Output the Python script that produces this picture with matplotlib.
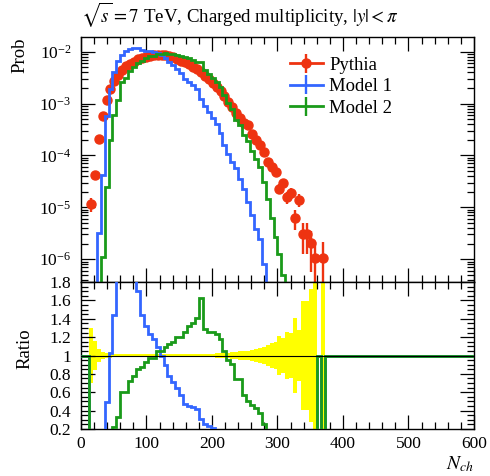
import numpy as np
import matplotlib
matplotlib.use("Agg")
import matplotlib.pyplot as plt
from matplotlib.ticker import MultipleLocator, LogLocator, NullFormatter, FuncFormatter

plt.rcParams['font.family'] = 'serif'
plt.rcParams['font.serif'] = ['Liberation Serif', 'DejaVu Serif']
plt.rcParams['mathtext.fontset'] = 'stix'

#---Binning: 6 units wide, 0..600
edges = np.arange(0, 606, 6)
centres = edges[:-1] + 3

#---log10(prob) per bin, starting at the given bin centre (None = empty bin)
pythia_start = 15
pythia_log = [-4.93, -4.38, -3.69, -3.24, -2.93, -2.72, -2.56, -2.45, -2.36, -2.28,
              -2.23, -2.19, -2.15, -2.12, -2.10, -2.08, -2.07, -2.06, -2.06, -2.07,
              -2.09, -2.11, -2.14, -2.17, -2.20, -2.24, -2.29, -2.34, -2.40, -2.46,
              -2.53, -2.60, -2.68, -2.76, -2.86, -2.96, -3.07, -3.18, -3.28, -3.37,
              -3.42, -3.58, -3.70, -3.80, -3.93, -4.12, -4.22, -4.32, -4.64, -4.54,
              -4.80, -4.73, -5.20, -4.85, -5.51, -5.51, -5.69, -5.97, None, -5.97]

model1_start = 21
model1_log = [-6.80, -5.50, -4.38, -3.24, -2.71, -2.40, -2.17, -2.06, -1.98, -1.94,
              -1.93, -1.92, -1.96, -1.98, -1.99, -2.00, -2.02, -2.06, -2.12, -2.20,
              -2.26, -2.33, -2.41, -2.53, -2.59, -2.65, -2.72, -2.91, -3.05, -3.17,
              -3.28, -3.40, -3.57, -3.80, -3.98, -4.12, -4.25, -4.45, -4.65, -4.90,
              -5.15, -5.42, -5.62, -6.10, -6.80]

model2_start = 33
model2_log = [-5.96, -4.60, -3.70, -3.22, -2.93, -2.58, -2.50, -2.37, -2.30, -2.22,
              -2.18, -2.13, -2.09, -2.08, -2.04, -2.04, -2.03, -2.04, -2.05, -2.06,
              -2.09, -2.10, -2.12, -2.16, -2.19, -2.19, -2.35, -2.43, -2.50, -2.59,
              -2.69, -2.84, -2.98, -3.11, -3.31, -3.41, -3.61, -3.72, -3.92, -4.07,
              -4.23, -4.52, -4.84, -5.20, -5.57, -5.90, -6.30, -6.80]

# prob corresponding to a single generated event
one_event = 10 ** -5.97

red = '#ee3311'
blue = '#3366ff'
green = '#1a9a1a'


def to_hist(start, logs):
  out = np.zeros(len(centres))
  i0 = (start - 3) // 6
  for k, v in enumerate(logs):
    if v is not None:
      out[i0 + k] = 10.0 ** v
  return out


pythia = to_hist(pythia_start, pythia_log)
model1 = to_hist(model1_start, model1_log)
model2 = to_hist(model2_start, model2_log)

#---Poisson errors on the reference
perr = np.sqrt(pythia * one_event)
has = pythia > 0
rel = np.where(has, perr / np.where(has, pythia, 1), 0)


def ratio(m):
  return np.where(has, m / np.where(has, pythia, 1), np.where(m > 0, 0, 1.0))


fig = plt.figure(figsize=(4.9, 4.76), dpi=100)
ax = fig.add_axes([0.1653, 0.4076, 0.802, 0.5147])
rax = fig.add_axes([0.1653, 0.0987, 0.802, 0.3089], sharex=ax)

#---Main panel
lo = np.minimum(perr, pythia * 0.999)
ax.errorbar(centres[has], pythia[has], yerr=[lo[has], perr[has]], fmt='o', color=red,
            ms=6.5, elinewidth=1.7, capsize=0, zorder=2)
ax.stairs(np.where(model1 > 0, model1, 1e-12), edges, baseline=None, color=blue, lw=2.0, zorder=3)
ax.stairs(np.where(model2 > 0, model2, 1e-12), edges, baseline=None, color=green, lw=2.0, zorder=3)
ax.set_yscale('log')
ax.set_ylim(10 ** -6.44, 10 ** -1.716)
ax.set_xlim(0, 600)

# legend proxies
hp = ax.errorbar([np.nan], [np.nan], yerr=[1], fmt='o-', color=red, ms=6.5, lw=2.0, elinewidth=1.7)
h1 = ax.errorbar([np.nan], [np.nan], yerr=[1], fmt='-', color=blue, lw=2.0, elinewidth=1.7)
h2 = ax.errorbar([np.nan], [np.nan], yerr=[1], fmt='-', color=green, lw=2.0, elinewidth=1.7)
ax.legend([hp, h1, h2], ['Pythia', 'Model 1', 'Model 2'], loc='upper left',
          bbox_to_anchor=(0.532, 0.92), frameon=False, fontsize=13.5,
          handlelength=1.75, handletextpad=0.35, labelspacing=0.24, borderaxespad=0,
          borderpad=0)

#---Ratio panel
rax.stairs(1 + rel, edges, baseline=1 - rel, fill=True, color='#ffff00', lw=0, zorder=1)
rax.stairs(ratio(model1), edges, baseline=None, color=blue, lw=2.0, zorder=3)
rax.stairs(ratio(model2), edges, baseline=None, color=green, lw=2.0, zorder=3)
rax.axhline(1, color='k', lw=0.8, zorder=4)
rax.set_ylim(0.2, 1.8)

#---Ticks
for a in (ax, rax):
  a.tick_params(which='both', direction='in', top=True, right=True, labelsize=12.5)
  a.tick_params(which='major', length=10, width=0.9)
  a.tick_params(which='minor', length=5, width=0.9)
  a.xaxis.set_major_locator(MultipleLocator(100))
  a.xaxis.set_minor_locator(MultipleLocator(20))
  for s in a.spines.values():
    s.set_linewidth(1.0)
ax.yaxis.set_major_locator(LogLocator(base=10, numticks=10))
ax.yaxis.set_minor_locator(LogLocator(base=10, subs=np.arange(2, 10), numticks=20))
ax.yaxis.set_minor_formatter(NullFormatter())
ax.tick_params(axis='y', pad=7)
ax.tick_params(axis='x', labelbottom=False)
rax.yaxis.set_major_locator(MultipleLocator(0.2))
rax.yaxis.set_minor_locator(MultipleLocator(0.05))
rax.yaxis.set_major_formatter(FuncFormatter(lambda v, p: '%g' % round(v, 2)))
rax.tick_params(axis='y', pad=7)
rax.tick_params(axis='x', pad=5)

#---Labels
fig.text(81 / 490, 1 - 15 / 476, r'$\sqrt{s}=7$ TeV, Charged multiplicity, $|y|<\pi$',
         ha='left', va='center', fontsize=13.6)
fig.text(20 / 490, 1 - 38 / 476, 'Prob', rotation=90, ha='center', va='top', fontsize=13.5)
fig.text(25 / 490, 1 - 349 / 476, 'Ratio', rotation=90, ha='center', va='center', fontsize=13.5)
fig.text(474 / 490, 1 - 464 / 476, r'$N_{ch}$', ha='right', va='center', fontsize=14)

plt.savefig('out.png', dpi=100)
